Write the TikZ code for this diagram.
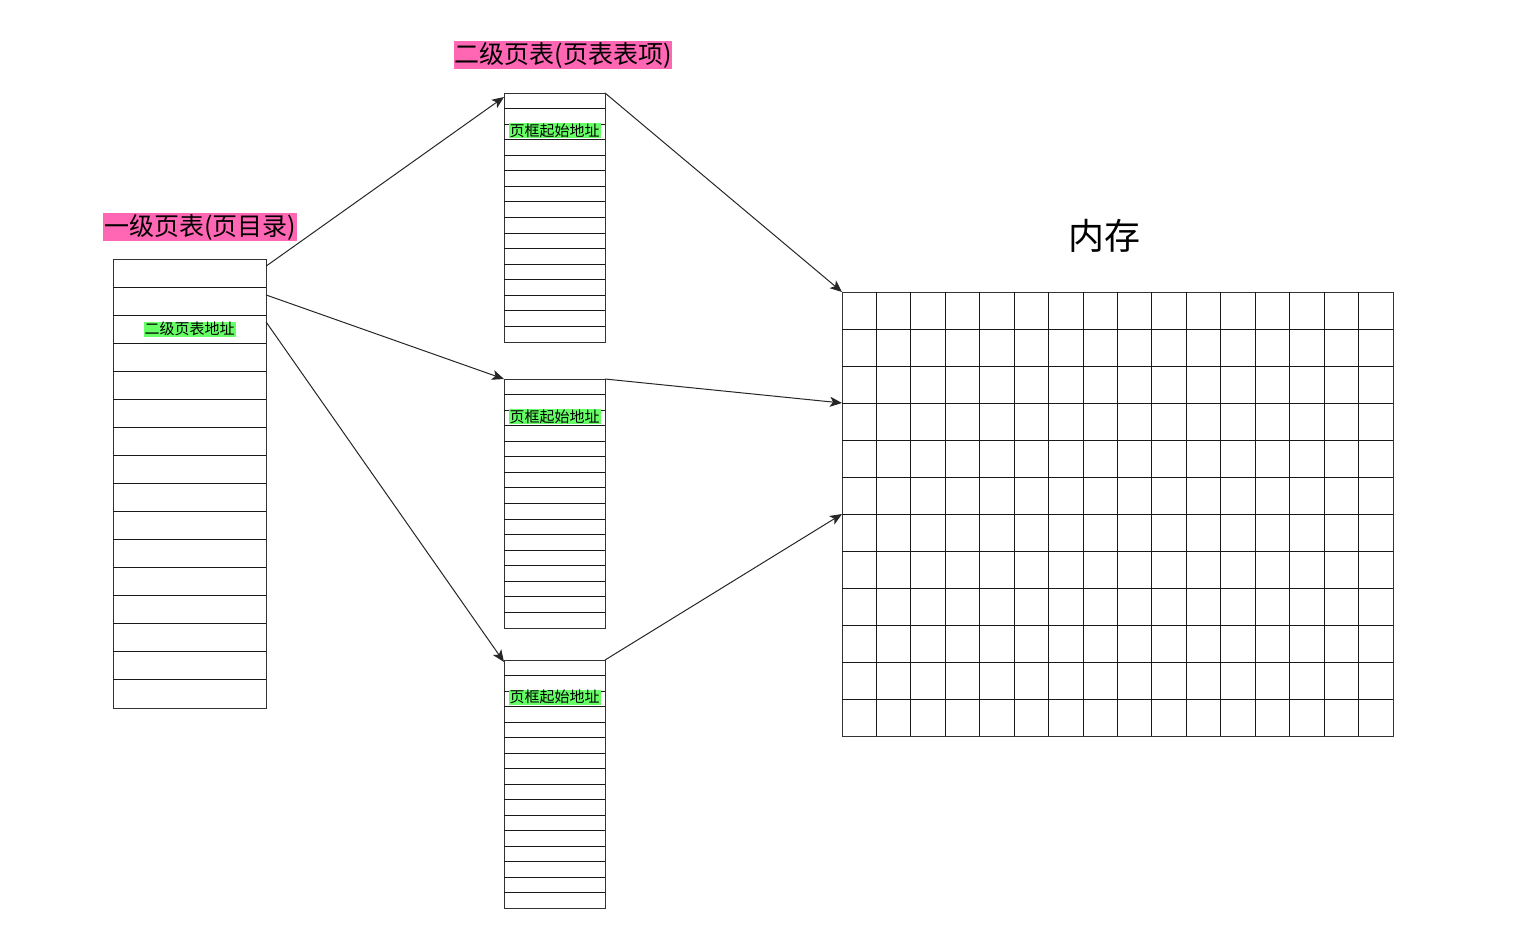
\documentclass[tikz,border=0pt]{standalone}
\usepackage{fontspec}
\setmainfont{Noto Sans CJK SC}
\usepackage{tikz}
\usetikzlibrary{arrows.meta, calc, positioning}
\definecolor{titlepink}{HTML}{FF66B3}
\definecolor{addrgreen}{HTML}{66FF66}

\begin{document}
\begin{tikzpicture}[x=1pt, y=-1pt,
        every node/.style={inner sep=0pt, outer sep=0pt},
        ptable/.style={rectangle, draw=black!80, line width=1pt, minimum width=#1},
        cell/.style={draw=black!90, line width=1pt},
        title/.style={fill=titlepink, inner sep=1pt, font=\fontsize{25}{30}\selectfont},
        addr/.style={fill=addrgreen, inner xsep=1pt, inner ysep=0.6pt, font=\fontsize{15}{18}\selectfont},
        arrow/.style={-{Stealth[length=12pt, width=10pt, inset=3pt]}, line width=1pt, black!85}
    ]
    \useasboundingbox (0,0) rectangle (1516,930);
%
    % page directory
    \node[ptable=153pt, minimum height=449pt] (l1) at (189.5,483.5) {};
    \foreach \r in {1,...,15}
        \draw[cell] ($(l1.north west)!\r/16!(l1.south west)$) -- ($(l1.north east)!\r/16!(l1.south east)$);
    \node[addr] (l1addr) at ($(l1.north)!2.5/16!(l1.south)$) {二级页表地址};
    \node[title, above=18pt of l1.north, xshift=10.5pt] (l1title) {一级页表(页目录)};
%
    % page tables
    \node[ptable=101pt, minimum height=249pt] (t1) at (554.5,217.5) {};
    \node[ptable=101pt, minimum height=249pt] (t2) at (554.5,503.5) {};
    \node[ptable=101pt, minimum height=248pt] (t3) at (554.5,784) {};
    \foreach \t in {t1,t2,t3} {
        \foreach \r in {1,...,15}
            \draw[cell] ($(\t.north west)!\r/16!(\t.south west)$) -- ($(\t.north east)!\r/16!(\t.south east)$);
        \node[addr] (\t addr) at ($(\t.north)!2.4/16!(\t.south)$) {页框起始地址};
    }
    \node[title, above=24pt of t1.north, xshift=8.5pt] (ttitle) {二级页表(页表表项)};
%
    % memory
    \node[ptable=551pt, minimum height=444pt] (mem) at (1117.5,514) {};
    \foreach \c in {1,...,15}
        \draw[cell] ($(mem.north west)!\c/16!(mem.north east)$) -- ($(mem.south west)!\c/16!(mem.south east)$);
    \foreach \r in {1,...,11}
        \draw[cell] ($(mem.north west)!\r/12!(mem.south west)$) -- ($(mem.north east)!\r/12!(mem.south east)$);
    \node[above=40pt of mem.north, xshift=-13.5pt, font=\fontsize{36}{40}\selectfont] (memtitle) {内存};
%
    \draw[arrow] ($(l1.north east)!0.016!(l1.south east)$) -- ($(t1.north west)+(0,4)$);
    \draw[arrow] ($(l1.north east)!0.08!(l1.south east)$) -- (t2.north west);
    \draw[arrow] ($(l1.north east)!0.14!(l1.south east)$) -- ($(t3.north west)+(0,2)$);
%
    \draw[arrow] (t1.north east) -- (mem.north west);
    \draw[arrow] (t2.north east) -- ($(mem.north west)!0.25!(mem.south west)$);
    \draw[arrow] (t3.north east) -- ($(mem.north west)!0.5!(mem.south west)$);
%
\end{tikzpicture}
\end{document}
